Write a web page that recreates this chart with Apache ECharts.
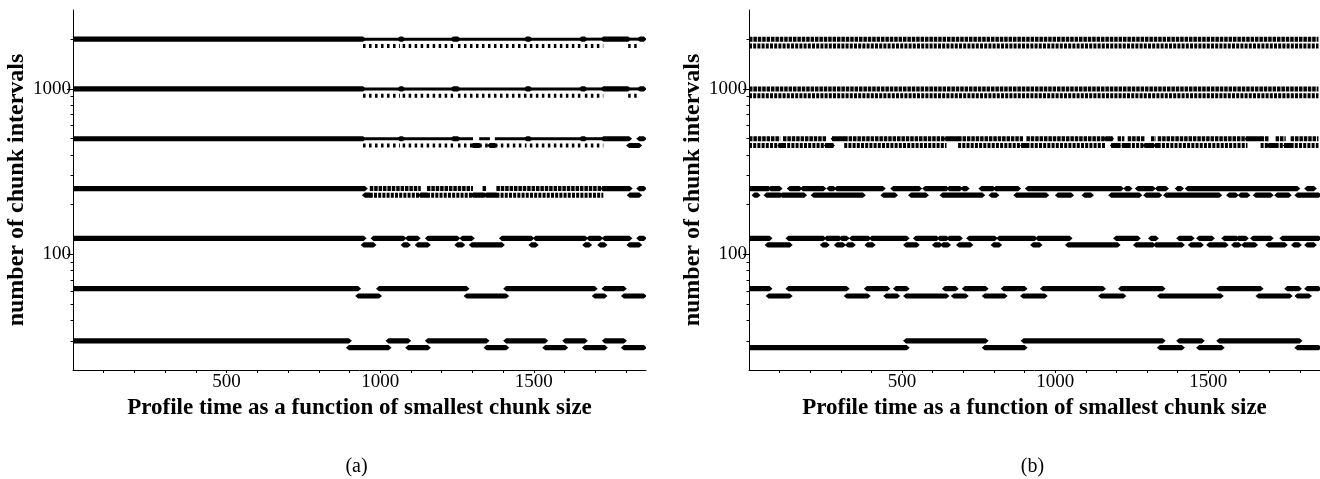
<!DOCTYPE html>
<html><head><meta charset="utf-8">
<script src="https://cdn.jsdelivr.net/npm/echarts@6/dist/echarts.min.js"></script>
<style>html,body{margin:0;padding:0;background:#fff}#c{width:1320px;height:479px}</style>
</head><body><div id="c"></div><script>
// chunk-interval levels (upper value and the slightly lower alternative value)
const upperLevels = [2000, 1000, 500, 250, 125, 62, 30];
const lowerLevels = [1820, 910, 455, 228, 114, 56, 27.3];
// axis ticks / labels
const xTickValues = [100,200,300,400,500,600,700,800,900,1000,1100,1200,1300,1400,1500,1600,1700,1800];
const xLabelValues = [500, 1000, 1500];
const yLabelValues = [100, 1000];
const yMinorTickValues = [30,40,50,60,70,80,90,200,300,400,500,600,700,800,900,2000];
const panelCaptions = ['(a)', '(b)'];
const xTitle = 'Profile time as a function of smallest chunk size';
const yTitle = 'number of chunk intervals';

// runs: [from, to, state]  U = upper value, L = lower value,
// M = alternating between both, S = mostly upper with sparse lower values
const a2000 = [[0,944,'U'],[944,1064,'S'],[1064,1073,'U'],[1073,1237,'S'],[1237,1253,'U'],[1253,1476,'S'],[1476,1487,'U'],[1487,1655,'S'],[1655,1666,'U'],[1666,1726,'S'],[1726,1807,'U'],[1807,1845,'S'],[1845,1858,'U']];
const a1000 = [[0,944,'U'],[944,1064,'S'],[1064,1073,'U'],[1073,1237,'S'],[1237,1253,'U'],[1253,1476,'S'],[1476,1487,'U'],[1487,1655,'S'],[1655,1666,'U'],[1666,1726,'S'],[1726,1807,'U'],[1807,1845,'S'],[1845,1858,'U']];
const a500 = [[0,944,'U'],[944,1064,'S'],[1064,1073,'U'],[1073,1237,'S'],[1237,1253,'U'],[1253,1302,'S'],[1302,1322,'L'],[1322,1357,'S'],[1357,1373,'L'],[1373,1476,'S'],[1476,1487,'U'],[1487,1655,'S'],[1655,1666,'U'],[1666,1726,'S'],[1726,1810,'U'],[1810,1843,'L'],[1843,1858,'U']];
const a250 = [[0,950,'U'],[950,966,'L'],[966,1132,'M'],[1132,1152,'L'],[1152,1302,'M'],[1302,1333,'L'],[1333,1346,'M'],[1346,1378,'L'],[1378,1726,'M'],[1726,1812,'U'],[1812,1843,'L'],[1843,1858,'U']];
const a125 = [[0,946,'U'],[946,978,'L'],[978,1076,'U'],[1076,1090,'L'],[1090,1122,'U'],[1122,1155,'L'],[1155,1251,'U'],[1251,1267,'L'],[1267,1298,'U'],[1298,1396,'L'],[1396,1492,'U'],[1492,1506,'L'],[1506,1667,'U'],[1667,1680,'L'],[1680,1716,'U'],[1716,1730,'L'],[1730,1811,'U'],[1811,1843,'L'],[1843,1858,'U']];
const a62 = [[0,928,'U'],[928,996,'L'],[996,1281,'U'],[1281,1410,'L'],[1410,1698,'U'],[1698,1730,'L'],[1730,1793,'U'],[1793,1858,'L']];
const a31 = [[0,898,'U'],[898,1027,'L'],[1027,1091,'U'],[1091,1155,'L'],[1155,1346,'U'],[1346,1410,'L'],[1410,1537,'U'],[1537,1602,'L'],[1602,1666,'U'],[1666,1731,'L'],[1731,1793,'U'],[1793,1858,'L']];

const b2000 = [[0,1860,'M']];
const b1000 = [[0,1860,'M']];
const b500 = [[0,102,'M'],[102,111,'L'],[111,254,'M'],[254,271,'L'],[271,276,'M'],[276,311,'U'],[311,645,'M'],[645,683,'U'],[683,895,'M'],[895,906,'L'],[906,1166,'M'],[1166,1183,'U'],[1183,1188,'M'],[1188,1204,'L'],[1204,1226,'M'],[1226,1237,'L'],[1237,1294,'M'],[1294,1313,'L'],[1313,1329,'M'],[1329,1335,'L'],[1335,1628,'M'],[1628,1671,'U'],[1671,1698,'M'],[1698,1720,'L'],[1720,1753,'M'],[1753,1769,'L'],[1769,1860,'M']];
const b250 = [[0,64,'U'],[71,100,'U'],[133,165,'U'],[176,243,'U'],[262,276,'U'],[287,437,'U'],[471,556,'U'],[575,645,'U'],[654,689,'U'],[700,711,'U'],[759,797,'U'],[806,879,'U'],[911,1215,'U'],[1232,1243,'U'],[1270,1319,'U'],[1335,1362,'U'],[1400,1411,'U'],[1433,1791,'U'],[1823,1845,'U'],
  [18,28,'L'],[57,102,'L'],[108,180,'L'],[211,372,'L'],[439,477,'L'],[529,578,'L'],[632,762,'L'],[792,808,'L'],[873,971,'L'],[1009,1052,'L'],[1096,1117,'L'],[1183,1275,'L'],[1297,1340,'L'],[1362,1536,'L'],[1568,1590,'L'],[1606,1628,'L'],[1655,1704,'L'],[1725,1763,'L'],[1791,1861,'L']];
const b125 = [[0,67,'U'],[129,243,'U'],[254,295,'U'],[303,319,'U'],[336,390,'U'],[401,515,'U'],[545,613,'U'],[623,645,'U'],[654,689,'U'],[719,803,'U'],[817,933,'U'],[944,1047,'U'],[1199,1270,'U'],[1313,1329,'U'],[1405,1446,'U'],[1470,1512,'U'],[1552,1592,'U'],[1599,1623,'U'],[1646,1704,'U'],[1742,1861,'U'],
  [61,133,'L'],[241,254,'L'],[287,307,'L'],[323,339,'L'],[387,404,'L'],[513,548,'L'],[607,623,'L'],[634,650,'L'],[686,723,'L'],[799,817,'L'],[928,949,'L'],[1042,1204,'L'],[1264,1319,'L'],[1329,1414,'L'],[1443,1476,'L'],[1503,1557,'L'],[1584,1600,'L'],[1617,1653,'L'],[1696,1750,'L'],[1780,1796,'L'],[1823,1845,'L']];
const b62 = [[0,67,'U'],[129,319,'U'],[385,452,'U'],[480,515,'U'],[640,675,'U'],[705,773,'U'],[832,900,'U'],[960,1156,'U'],[1215,1351,'U'],[1536,1671,'U'],[1758,1796,'U'],[1823,1861,'U'],
  [64,133,'L'],[319,388,'L'],[448,484,'L'],[513,645,'L'],[669,708,'L'],[770,835,'L'],[895,966,'L'],[1150,1223,'L'],[1342,1541,'L'],[1664,1766,'L'],[1791,1829,'L']];
const b31 = [[0,515,'L'],[513,773,'U'],[770,900,'L'],[897,1351,'U'],[1342,1414,'L'],[1405,1479,'U'],[1470,1544,'L'],[1536,1798,'U'],[1791,1861,'L']];

const panelA = [a2000, a1000, a500, a250, a125, a62, a31];
const panelB = [b2000, b1000, b500, b250, b125, b62, b31];

const HALF = 2.6, TIP = 3;
function bar(api, x0, x1, y) {
  const p0 = api.coord([x0, y]), p1 = api.coord([x1, y]);
  return {type: 'polygon', shape: {points: [
    [p0[0] - TIP, p0[1]], [p0[0], p0[1] - HALF], [p1[0], p1[1] - HALF],
    [p1[0] + TIP, p1[1]], [p1[0], p1[1] + HALF], [p0[0], p0[1] + HALF]]},
    style: {fill: '#000'}};
}
function seg(api, x0, x1, y, width, dash) {
  const p0 = api.coord([x0, y]), p1 = api.coord([x1, y]);
  return {type: 'line', shape: {x1: p0[0], y1: p0[1], x2: p1[0], y2: p1[1]},
    style: {stroke: '#000', lineWidth: width, lineDash: dash || null}};
}
const renderers = {
  U: (p, api) => bar(api, api.value(0), api.value(1), api.value(2)),
  L: (p, api) => bar(api, api.value(0), api.value(1), api.value(3)),
  M: (p, api) => ({type: 'group', children: [
    seg(api, api.value(0), api.value(1), api.value(2), 5, [3.5, 0.9]),
    seg(api, api.value(0), api.value(1), api.value(3), 5, [3, 1.2])]}),
  S: (p, api) => ({type: 'group', children: [
    seg(api, api.value(0), api.value(1), api.value(2), 3),
    seg(api, api.value(0), api.value(1), api.value(3), 4, [2.5, 3.5])]})
};
function buildSeries(runsByLevel, idx) {
  const buckets = {U: [], L: [], M: [], S: []};
  runsByLevel.forEach((runs, i) => runs.forEach(r =>
    buckets[r[2]].push([r[0], r[1], upperLevels[i], lowerLevels[i]])));
  return Object.keys(buckets).map(k => ({
    type: 'custom', xAxisIndex: idx, yAxisIndex: idx * 2, data: buckets[k],
    encode: {x: [0, 1], y: [2, 3]}, renderItem: renderers[k], clip: true, silent: true
  }));
}

const serif = 'Liberation Serif';
const grids = [{left: 73, top: 10, width: 573, height: 360}, {left: 749, top: 10, width: 573, height: 360}];
function xAx(i) {
  return {type: 'value', gridIndex: i, min: 0, max: 1865,
    axisLine: {show: true, onZero: false, lineStyle: {color: '#000', width: 1}},
    axisTick: {show: true, length: 3, customValues: xTickValues, lineStyle: {color: '#000'}},
    axisLabel: {customValues: xLabelValues, color: '#000', fontFamily: serif, fontSize: 19, margin: 3, formatter: v => String(v)},
    splitLine: {show: false},
    name: xTitle, nameLocation: 'middle', nameGap: 24,
    nameTextStyle: {fontFamily: serif, fontWeight: 'bold', fontSize: 23, color: '#000'}};
}
function yAx(i) {
  return [{type: 'log', logBase: 10, gridIndex: i, min: 20, max: 3000,
    axisLine: {show: true, lineStyle: {color: '#000', width: 1}},
    axisTick: {show: true, length: 6, customValues: yLabelValues, lineStyle: {color: '#000'}},
    axisLabel: {customValues: yLabelValues, color: '#000', fontFamily: serif, fontSize: 19, margin: 2, formatter: v => String(v)},
    splitLine: {show: false}, minorTick: {show: false},
    name: yTitle, nameLocation: 'middle', nameGap: 42,
    nameTextStyle: {fontFamily: serif, fontWeight: 'bold', fontSize: 24, color: '#000'}},
   {type: 'log', logBase: 10, gridIndex: i, min: 20, max: 3000, position: 'left',
    axisLine: {show: false},
    axisTick: {show: true, length: 2.5, customValues: yMinorTickValues, lineStyle: {color: '#000'}},
    axisLabel: {show: false}, splitLine: {show: false}}];
}

const chart = echarts.init(document.getElementById('c'), null, {renderer: 'canvas'});
chart.setOption({
  animation: false,
  backgroundColor: '#fff',
  grid: grids,
  xAxis: [xAx(0), xAx(1)],
  yAxis: yAx(0).concat(yAx(1)),
  series: buildSeries(panelA, 0).concat(buildSeries(panelB, 1)),
  graphic: panelCaptions.map((t, i) => ({type: 'text', x: grids[i].left + grids[i].width / 2 - 3, y: 467,
    style: {text: t, textAlign: 'center', textVerticalAlign: 'middle', font: '20px "Liberation Serif"', fill: '#000'}}))
});
</script></body></html>
